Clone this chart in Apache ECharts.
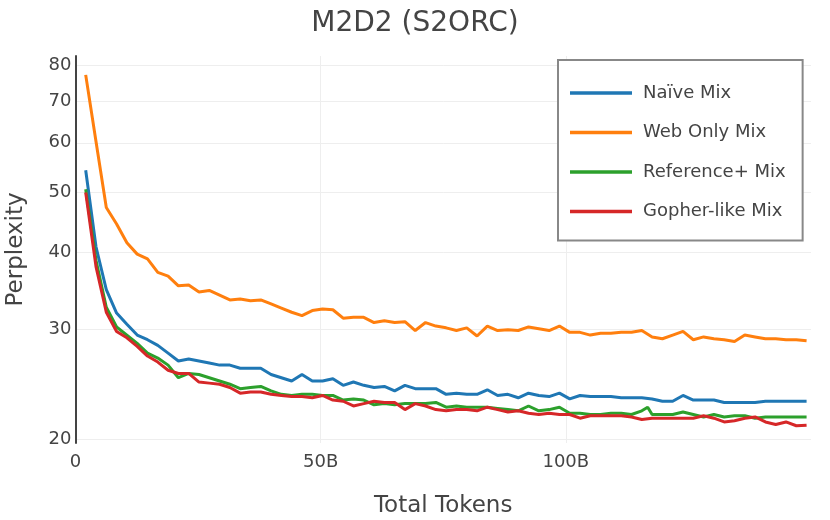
<!DOCTYPE html>
<html>
<head>
<meta charset="utf-8">
<script src="https://cdn.jsdelivr.net/npm/echarts@6/dist/echarts.min.js"></script>
<style>html,body{margin:0;padding:0;background:#fff;}#c{width:830px;height:520px;}</style>
</head>
<body>
<div id="c"></div>
<script>
// Total tokens (billions) at each checkpoint
const tokens = [2.1,4.2,6.3,8.4,10.5,12.6,14.7,16.8,18.9,21.0,23.1,25.2,27.3,29.4,31.5,33.6,35.7,37.8,39.9,42.0,
  44.1,46.2,48.3,50.4,52.5,54.6,56.7,58.8,60.9,63.0,65.1,67.2,69.3,71.4,73.5,75.6,77.7,79.8,81.9,84.0,
  86.1,88.2,90.3,92.4,94.5,96.6,98.7,100.8,102.9,105.0,107.1,109.2,111.3,113.4,115.5,117.6,119.7,121.8,123.9,126.0,
  128.1,130.2,132.3,134.4,136.5,138.6,140.7,142.8,144.9,147.0,149.1];

const seriesNames = ['Naïve Mix', 'Web Only Mix', 'Reference+ Mix', 'Gopher-like Mix'];

const naive = [54.2,40.8,34.8,31.9,30.6,29.4,28.9,28.3,27.5,26.7,26.9,26.7,26.5,26.3,26.3,26.0,26.0,26.0,25.4,25.1,
  24.8,25.4,24.8,24.8,25.0,24.4,24.7,24.4,24.2,24.3,23.9,24.4,24.1,24.1,24.1,23.6,23.7,23.6,23.6,24.0,
  23.5,23.6,23.3,23.7,23.5,23.4,23.7,23.2,23.5,23.4,23.4,23.4,23.3,23.3,23.3,23.2,23.0,23.0,23.5,23.1,
  23.1,23.1,22.9,22.9,22.9,22.9,23.0,23.0,23.0,23.0,23.0];

const webOnly = [77.2,60.3,47.2,44.4,41.4,39.7,39.0,37.1,36.6,35.3,35.4,34.5,34.7,34.1,33.5,33.6,33.4,33.5,33.0,32.5,
  32.0,31.6,32.2,32.4,32.3,31.3,31.4,31.4,30.8,31.0,30.8,30.9,29.9,30.8,30.4,30.2,29.9,30.2,29.3,30.4,
  29.9,30.0,29.9,30.3,30.1,29.9,30.4,29.7,29.7,29.4,29.6,29.6,29.7,29.7,29.9,29.2,29.0,29.4,29.8,28.9,
  29.2,29.0,28.9,28.7,29.4,29.2,29.0,29.0,28.9,28.9,28.8];

const referencePlus = [50.5,38.8,32.6,30.3,29.4,28.5,27.5,27.0,26.3,25.1,25.5,25.4,25.1,24.8,24.5,24.1,24.2,24.3,23.9,23.6,
  23.5,23.6,23.6,23.5,23.5,23.1,23.2,23.1,22.7,22.8,22.7,22.8,22.8,22.8,22.9,22.5,22.6,22.5,22.5,22.5,
  22.4,22.3,22.2,22.6,22.2,22.3,22.5,22.0,22.0,21.9,21.9,22.0,22.0,21.9,22.2,21.9,21.9,21.9,22.1,21.9,
  21.7,21.9,21.7,21.8,21.8,21.6,21.7,21.7,21.7,21.7,21.7];
// one extra checkpoint logged for the Reference+ run
const referencePlusExtra = [116.7, 22.5];

const gopherLike = [49.9,37.9,32.0,29.8,29.1,28.2,27.2,26.6,25.8,25.5,25.5,24.7,24.6,24.5,24.2,23.7,23.8,23.8,23.6,23.5,
  23.4,23.4,23.3,23.5,23.1,23.0,22.6,22.8,23.0,22.9,22.9,22.3,22.8,22.6,22.3,22.2,22.3,22.3,22.2,22.5,
  22.3,22.1,22.2,22.0,21.9,22.0,21.9,21.9,21.6,21.8,21.8,21.8,21.8,21.7,21.5,21.6,21.6,21.6,21.6,21.6,
  21.8,21.6,21.3,21.4,21.6,21.7,21.3,21.1,21.3,21.0,21.05];

const yTicks = [20, 30, 40, 50, 60, 70, 80];
const xTicks = [0, 50, 100];

const colors = ['#1f77b4', '#ff7f0e', '#2ca02c', '#d62728'];
const FONT = 'DejaVu Sans';
const TXT = '#444';

function pairs(xs, ys) { return xs.map((x, i) => [x, ys[i]]).filter(p => p[1] != null); }
const refData = pairs(tokens, referencePlus);
{
  const idx = refData.findIndex(p => p[0] > referencePlusExtra[0]);
  refData.splice(idx, 0, referencePlusExtra.slice());
}
const allData = [pairs(tokens, naive), pairs(tokens, webOnly), refData, pairs(tokens, gopherLike)];

const chart = echarts.init(document.getElementById('c'), null, {renderer: 'canvas'});
chart.setOption({
  animation: false,
  backgroundColor: '#fff',
  textStyle: {fontFamily: FONT, color: TXT},
  title: {
    text: 'M2D2 (S2ORC)', left: 'center', top: 5,
    textStyle: {fontFamily: FONT, fontSize: 28, fontWeight: 'normal', color: TXT}
  },
  legend: {
    orient: 'vertical', left: 558, top: 60,
    data: seriesNames,
    icon: 'rect', itemWidth: 62, itemHeight: 3.5, itemGap: 19.5,
    padding: [23, 17, 19, 12],
    borderColor: '#888', borderWidth: 2, backgroundColor: '#fff',
    textStyle: {fontFamily: FONT, fontSize: 18, color: TXT, lineHeight: 20, padding: [0, 0, 0, 6]}
  },
  grid: {left: 75.4, right: 19, top: 56, bottom: 77, containLabel: false, outerBoundsMode: 'none'},
  xAxis: {
    type: 'value', min: 0, max: 150, interval: 50,
    name: 'Total Tokens', nameLocation: 'middle', nameGap: 52,
    nameTextStyle: {fontFamily: FONT, fontSize: 23, color: TXT},
    axisLine: {show: false}, axisTick: {show: false, customValues: xTicks},
    axisLabel: {customValues: xTicks, fontFamily: FONT, fontSize: 18, color: TXT, margin: 10,
      formatter: v => v === 0 ? '0' : v + 'B'},
    splitLine: {show: true, lineStyle: {color: '#eee', width: 1}}
  },
  yAxis: {
    type: 'log', logBase: 10, min: 19.7, max: 82.8,
    name: 'Perplexity', nameLocation: 'middle', nameGap: 48, nameRotate: 90,
    nameTextStyle: {fontFamily: FONT, fontSize: 23, color: TXT},
    axisLine: {show: true, onZero: false, lineStyle: {color: '#444', width: 2}},
    axisTick: {show: false, customValues: yTicks},
    axisLabel: {customValues: yTicks, fontFamily: FONT, fontSize: 18, color: TXT, margin: 4,
      formatter: v => String(Math.round(v))},
    splitLine: {show: true, lineStyle: {color: '#eee', width: 1}}
  },
  series: seriesNames.map((n, i) => ({
    name: n, type: 'line', data: allData[i],
    showSymbol: false, symbol: 'none',
    lineStyle: {width: 3, color: colors[i]}, itemStyle: {color: colors[i]},
    z: 2 + i
  }))
});
</script>
</body>
</html>
